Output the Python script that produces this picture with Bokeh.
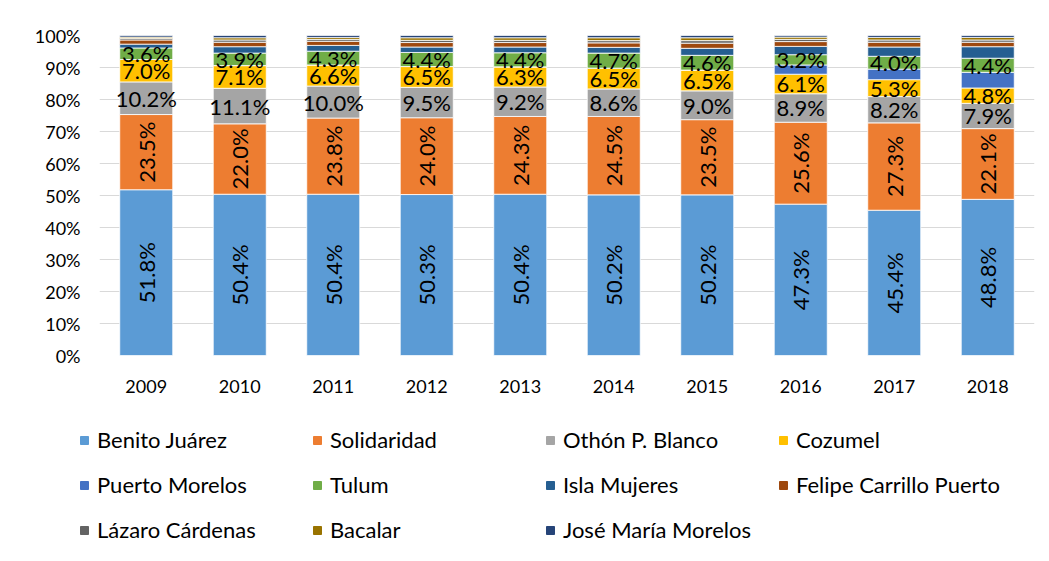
from bokeh.plotting import figure
from bokeh.layouts import column
from bokeh.models import ColumnDataSource, Legend, LegendItem, FixedTicker, PrintfTickFormatter, Range1d
from bokeh.core.properties import value
from bokeh.embed import file_html
from bokeh.resources import INLINE
import math

years = ["2009", "2010", "2011", "2012", "2013", "2014", "2015", "2016", "2017", "2018"]
series_names = ["Benito Juárez", "Solidaridad", "Othón P. Blanco", "Cozumel", "Puerto Morelos",
                "Tulum", "Isla Mujeres", "Felipe Carrillo Puerto", "Lázaro Cárdenas", "Bacalar",
                "José María Morelos"]
benito = [51.8, 50.4, 50.4, 50.3, 50.4, 50.2, 50.2, 47.3, 45.4, 48.8]
solidaridad = [23.5, 22.0, 23.8, 24.0, 24.3, 24.5, 23.5, 25.6, 27.3, 22.1]
othon = [10.2, 11.1, 10.0, 9.5, 9.2, 8.6, 9.0, 8.9, 8.2, 7.9]
cozumel = [7.0, 7.1, 6.6, 6.5, 6.3, 6.5, 6.5, 6.1, 5.3, 4.8]
puerto_morelos = [0, 0, 0, 0, 0, 0, 0, 2.9, 3.3, 4.9]
tulum = [3.6, 3.9, 4.3, 4.4, 4.4, 4.7, 4.6, 3.2, 4.0, 4.4]
isla_mujeres = [1.2, 2.0, 1.8, 1.7, 1.8, 1.8, 2.2, 2.6, 2.9, 3.6]
felipe_carrillo = [1.3, 1.4, 1.3, 1.4, 1.4, 1.4, 1.6, 1.5, 1.5, 1.4]
lazaro = [0.5, 0.7, 0.6, 0.7, 0.7, 0.7, 0.8, 0.7, 0.7, 0.7]
bacalar = [0.4, 0.7, 0.6, 0.8, 0.8, 0.9, 0.9, 0.7, 0.8, 0.8]
jose_maria = [0.5, 0.7, 0.6, 0.7, 0.7, 0.7, 0.7, 0.5, 0.6, 0.6]
y_ticks = [0, 10, 20, 30, 40, 50, 60, 70, 80, 90, 100]

colors = ["#5B9BD5", "#ED7D31", "#A5A5A5", "#FFC000", "#4472C4", "#70AD47",
          "#255E91", "#9E480E", "#636363", "#997300", "#264478"]
all_series = [benito, solidaridad, othon, cozumel, puerto_morelos, tulum, isla_mujeres,
              felipe_carrillo, lazaro, bacalar, jose_maria]
keys = ["s%d" % i for i in range(len(all_series))]

data = {"year": years}
for k, s in zip(keys, all_series):
    data[k] = s
source = ColumnDataSource(data)

FONT = "Lato"

p = figure(x_range=years, y_range=Range1d(0, 100), width=1041, height=405,
           output_backend="svg", toolbar_location=None,
           min_border_left=99, min_border_right=7, min_border_top=35, min_border_bottom=50)
p.outline_line_color = None
p.background_fill_color = "white"
p.frame_align = False

renderers = p.vbar_stack(keys, x="year", width=0.567, color=colors, source=source,
                         line_color="white", line_width=0.8)

# data labels
label_specs = [(0, True), (1, True), (2, False), (3, False), (5, False)]
for idx, rotated in label_specs:
    mids = []
    for j in range(len(years)):
        base = sum(all_series[i][j] for i in range(idx))
        mids.append(base + all_series[idx][j] / 2.0)
    texts = ["%.1f%%" % v for v in all_series[idx]]
    src = ColumnDataSource({"x": years, "y": mids, "t": texts})
    p.text(x="x", y="y", text="t", source=src, angle=(math.pi / 2 if rotated else 0),
           text_align="center", text_baseline="middle", text_font=value(FONT),
           text_font_size="22px", text_color="#000000")

p.yaxis.ticker = FixedTicker(ticks=y_ticks)
p.yaxis.formatter = PrintfTickFormatter(format="%d%%")
for ax in (p.xaxis, p.yaxis):
    ax.axis_line_color = None
    ax.major_tick_line_color = None
    ax.minor_tick_line_color = None
    ax.major_label_text_font = FONT
    ax.major_label_text_font_size = "18px"
    ax.major_label_text_color = "#000000"
p.yaxis.major_label_standoff = 13
p.xaxis.major_label_standoff = 18
p.xgrid.grid_line_color = None
p.ygrid.ticker = FixedTicker(ticks=y_ticks)
p.ygrid.grid_line_color = "#D9D9D9"
p.ygrid.grid_line_width = 1

# legend panel (separate figure underneath, keyed to the same series and colours)
lg = figure(x_range=years, y_range=Range1d(200, 300), width=1041, height=148,
            output_backend="svg", toolbar_location=None,
            min_border_left=0, min_border_right=0, min_border_top=0, min_border_bottom=0,
            x_axis_type=None, y_axis_type=None)
lg.frame_align = False
lg.outline_line_color = None
lg.xgrid.grid_line_color = None
lg.ygrid.grid_line_color = None
leg_renderers = lg.vbar_stack(keys, x="year", width=0.567, color=colors, source=source)
for r in leg_renderers:
    r.visible = False

items = [LegendItem(label=n, renderers=[r]) for n, r in zip(series_names, leg_renderers)]
legend = Legend(items=items, orientation="horizontal", ncols=4, location=(79, 10),
                glyph_width=10, glyph_height=10, label_standoff=8, label_width=197,
                label_height=27, spacing=18, padding=0, margin=0,
                border_line_color=None, background_fill_alpha=0,
                inactive_fill_alpha=0,
                label_text_font=FONT, label_text_font_size="22px", label_text_color="#000000")
lg.add_layout(legend, "center")

layout = column(p, lg, spacing=0)
open("out.html", "w").write(file_html(layout, INLINE))
